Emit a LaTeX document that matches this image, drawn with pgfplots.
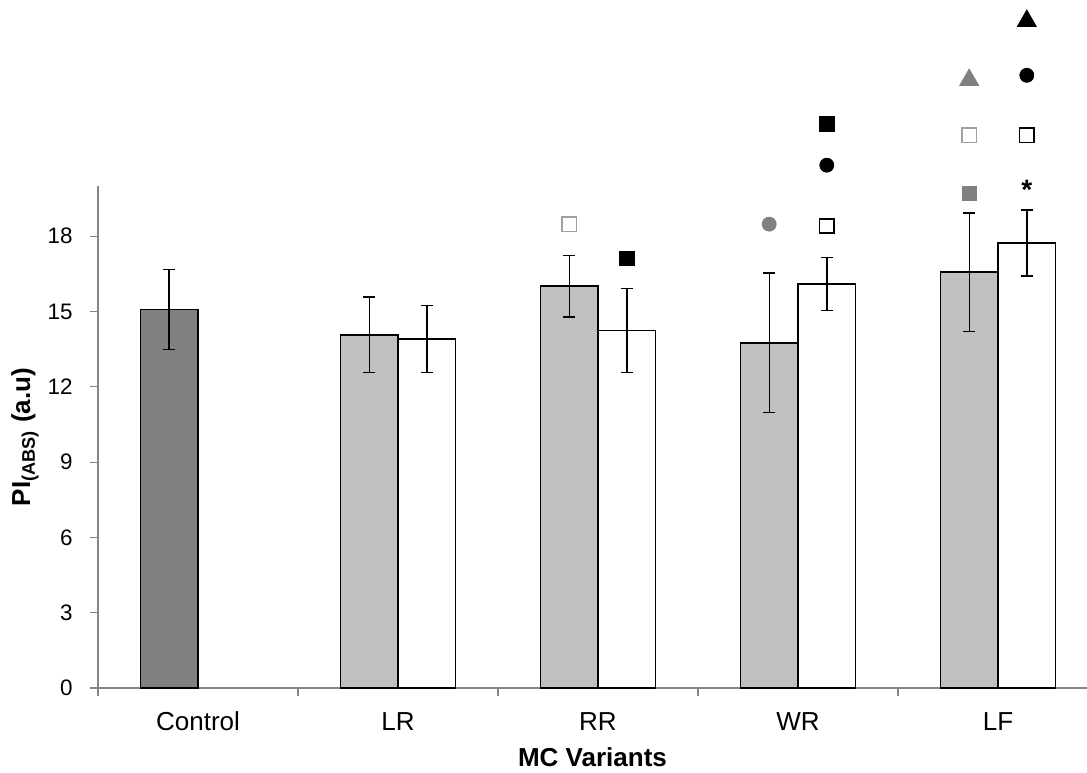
\documentclass[border=0pt]{standalone}
\usepackage{fontspec}
\setmainfont{Liberation Sans}
\usepackage{pgfplots}
\pgfplotsset{compat=1.18}
\definecolor{darkbar}{HTML}{808080}
\definecolor{lightbar}{HTML}{C0C0C0}
\definecolor{axgray}{HTML}{868686}
\definecolor{mgray}{HTML}{808080}
\definecolor{ogray}{HTML}{A0A0A0}
\begin{document}
\begin{tikzpicture}
\begin{axis}[
 scale only axis, width=494.5pt, height=251pt,
 xmin=-0.5, xmax=4.445, ymin=0, ymax=20,
 ybar, bar width=28.75pt,
 clip=false,
 axis lines*=left,
 axis line style={draw=axgray, line width=0.6pt},
 tick style={draw=axgray, line width=0.6pt},
 tick align=outside, major tick length=4pt,
 xtick={-0.5,0.5,1.5,2.5,3.5}, xticklabels={},
 extra x ticks={0,1,2,3,4},
 extra x tick labels={Control,LR,RR,WR,LF},
 extra x tick style={major tick length=0pt, xticklabel style={anchor=center, yshift=-16.75pt, font=\fontsize{13}{15}\selectfont}},
 ytick={0,3,...,18},
 yticklabel style={anchor=east, inner sep=0pt, xshift=-8.5pt, font=\fontsize{11.2}{13}\selectfont},
 /pgf/number format/assume math mode=true,
 label style={font=\fontsize{13}{15}\selectfont\bfseries},
 xlabel={MC Variants},
 ylabel={PI\textsubscript{(ABS)} (a.u)},
 xlabel style={at={(axis description cs:0.5,-0.137)}, anchor=center},
 ylabel style={at={(axis description cs:-0.0738,0.5)}, anchor=center},
 error bars/y dir=both, error bars/y explicit,
 error bars/error mark options={rotate=90, mark size=2.9pt, line width=0.75pt, black},
 error bars/error bar style={line width=0.75pt, black},
]
% Control (dark gray)
\addplot[draw=black, line width=0.75pt, fill=darkbar, bar shift=-14.375pt]
 coordinates {(0,15.08) +- (0,1.59)};
% gray series
\addplot[draw=black, line width=0.75pt, fill=lightbar, bar shift=-14.375pt]
 coordinates {(1,14.07) +- (0,1.50) (2,16.01) +- (0,1.22) (3,13.75) +- (0,2.78) (4,16.57) +- (0,2.36)};
% white series
\addplot[draw=black, line width=0.75pt, fill=white, bar shift=14.375pt]
 coordinates {(1,13.90) +- (0,1.33) (2,14.24) +- (0,1.68) (3,16.09) +- (0,1.06) (4,17.73) +- (0,1.32)};
% significance markers
\addplot[sharp plot, only marks, mark=square*, mark size=3.6pt, mark options={draw=ogray, fill=white, line width=0.8pt}]
 coordinates {(1.856,18.47) (3.856,22.02)};
\addplot[sharp plot, only marks, mark=square*, mark size=3.6pt, mark options={draw=black, fill=white, line width=0.8pt}]
 coordinates {(3.144,18.41) (4.144,22.02)};
\addplot[sharp plot, only marks, mark=square*, mark size=3.6pt, mark options={draw=black, fill=black}]
 coordinates {(2.144,17.11) (3.144,22.47)};
\addplot[sharp plot, only marks, mark=square*, mark size=3.6pt, mark options={draw=mgray, fill=mgray}]
 coordinates {(3.856,19.70)};
\addplot[sharp plot, only marks, mark=*, mark size=3.5pt, mark options={draw=mgray, fill=mgray}]
 coordinates {(2.856,18.48)};
\addplot[sharp plot, only marks, mark=*, mark size=3.5pt, mark options={draw=black, fill=black}]
 coordinates {(3.144,20.83) (4.144,24.41)};
\addplot[sharp plot, only marks, mark=triangle*, mark size=5.5pt, mark options={draw=mgray, fill=mgray}]
 coordinates {(3.856,24.22)};
\addplot[sharp plot, only marks, mark=triangle*, mark size=5.5pt, mark options={draw=black, fill=black}]
 coordinates {(4.144,26.57)};
\addplot[sharp plot, draw=none, mark=none, nodes near coords={*},
 every node near coord/.append style={anchor=center, inner sep=0pt, font=\fontsize{14}{14}\selectfont\bfseries}]
 coordinates {(4.144,19.85)};
\coordinate (bl) at (rel axis cs:0,0);
\coordinate (tr) at (rel axis cs:1,1);
\end{axis}
\pgfresetboundingbox
\path[use as bounding box] ([shift={(-49pt,-42pt)}]bl) rectangle ([shift={(0pt,93pt)}]tr);
\end{tikzpicture}
\end{document}
